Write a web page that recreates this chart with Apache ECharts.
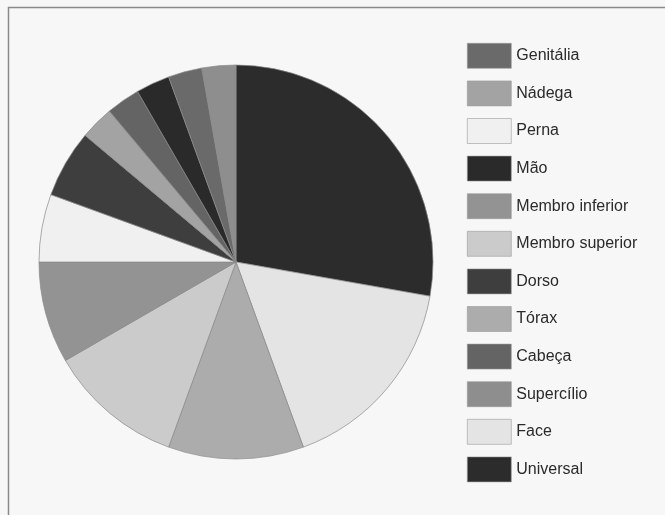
<!DOCTYPE html>
<html>
<head>
<meta charset="utf-8">
<script src="https://cdn.jsdelivr.net/npm/echarts@6/dist/echarts.min.js"></script>
<style>
html,body{margin:0;padding:0;background:#f7f7f7;}
#c{width:665px;height:515px;}
</style>
</head>
<body>
<div id="c"></div>
<script>
// Pie slices, clockwise from 12 o'clock
var categories = ['Universal','Face','Tórax','Membro superior','Membro inferior','Perna','Dorso','Nádega','Cabeça','Mão','Genitália','Supercílio'];
var values     = [10, 6, 4, 4, 3, 2, 2, 1, 1, 1, 1, 1];
var colors     = ['#2c2c2c','#e4e4e4','#acacac','#cbcbcb','#939393','#f0f0f0','#3e3e3e','#a3a3a3','#646464','#2a2a2a','#6a6a6a','#8e8e8e'];
// Legend order, top to bottom
var legendOrder = ['Genitália','Nádega','Perna','Mão','Membro inferior','Membro superior','Dorso','Tórax','Cabeça','Supercílio','Face','Universal'];

var data = categories.map(function(n,i){
  return {name:n, value:values[i], itemStyle:{color:colors[i]}};
});

var chart = echarts.init(document.getElementById('c'));
chart.setOption({
  backgroundColor:'#f7f7f7',
  animation:false,
  graphic:[{
    type:'rect',
    shape:{x:8.5,y:7.5,width:700,height:600},
    style:{fill:'none',stroke:'#8a8a8a',lineWidth:1.5},
    silent:true
  }],
  legend:{
    orient:'vertical',
    left:462,
    top:38,
    itemWidth:44,
    itemHeight:25,
    itemGap:12,
    icon:'rect',
    data:legendOrder,
    textStyle:{fontFamily:'Liberation Sans, Arial, sans-serif',fontSize:16,color:'#2a2a2a'},
    itemStyle:{borderColor:'#9a9a9a',borderWidth:0.6},
    selectedMode:false
  },
  series:[{
    type:'pie',
    center:[236,262],
    radius:[0,197],
    startAngle:90,
    clockwise:true,
    label:{show:false},
    labelLine:{show:false},
    itemStyle:{borderColor:'#8a8a8a',borderWidth:0.7},
    emphasis:{disabled:true},
    data:data
  }]
});
</script>
</body>
</html>
